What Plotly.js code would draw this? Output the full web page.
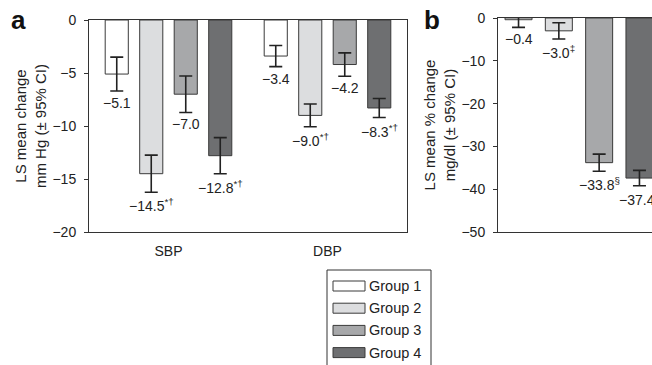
<!DOCTYPE html>
<html>
<head>
<meta charset="utf-8">
<script src="https://cdn.plot.ly/plotly-3.0.1.min.js"></script>
<style>html,body{margin:0;padding:0;background:#fff;}#chart{width:652px;height:365px;}</style>
</head>
<body>
<div id="chart"></div>
<script>
// ---- data ----
var groups = ['Group 1', 'Group 2', 'Group 3', 'Group 4'];
var colors = ['#ffffff', '#dcdddf', '#a7a8aa', '#6e6f71'];
var catsA = ['SBP', 'DBP'];
var bpG1 = [-5.1, -3.4];
var bpG2 = [-14.5, -9.0];
var bpG3 = [-7.0, -4.2];
var bpG4 = [-12.8, -8.3];
var bpErrG1 = [1.6, 1.0];
var bpErrG2 = [1.75, 1.07];
var bpErrG3 = [1.72, 1.1];
var bpErrG4 = [1.7, 0.9];
var bpMarks = [['', ''], ['*†', '*†'], ['', ''], ['*†', '*†']];
var lipid = [-0.4, -3.0, -33.8, -37.4];
var lipidErr = [1.8, 1.9, 2.0, 1.8];
var lipidMarks = ['', '‡', '§', '‖'];

// ---- layout helpers ----
var W = 652, H = 365;
var FONT = 'Liberation Sans, Arial, Helvetica, sans-serif';
var bargap = 0.132, bargroupgap = 0.33;
var slot = (1 - bargap) / 4;
function px(x) { return x / W; }
function py(y) { return 1 - y / H; }
function fmt(v) { return (v < 0 ? '\u2212' : '') + Math.abs(v).toFixed(1); }

var bpVals = [bpG1, bpG2, bpG3, bpG4];
var bpErrs = [bpErrG1, bpErrG2, bpErrG3, bpErrG4];
var traces = [];
var annotations = [];
var labelFont = {family: FONT, size: 14, color: '#222'};

for (var g = 0; g < 4; g++) {
  traces.push({
    type: 'bar', x: [0, 1], y: bpVals[g], name: groups[g], xaxis: 'x', yaxis: 'y',
    marker: {color: colors[g], line: {color: '#3a3a3a', width: 1}},
    error_y: {type: 'data', array: bpErrs[g], visible: true, color: '#222', thickness: 1.6, width: 6.5},
    showlegend: false, hoverinfo: 'skip'
  });
  for (var c = 0; c < 2; c++) {
    var t = fmt(bpVals[g][c]) + (bpMarks[g][c] ? '<sup>' + bpMarks[g][c] + '</sup>' : '');
    annotations.push({
      xref: 'x', yref: 'y', x: c + (g - 1.5) * slot, y: bpVals[g][c] - bpErrs[g][c],
      text: t, showarrow: false, yanchor: 'top', xanchor: 'center', yshift: -2,
      font: labelFont
    });
  }
}
for (var g2 = 0; g2 < 4; g2++) {
  traces.push({
    type: 'bar', x: [0], y: [lipid[g2]], name: groups[g2], xaxis: 'x2', yaxis: 'y2',
    marker: {color: colors[g2], line: {color: '#3a3a3a', width: 1}},
    error_y: {type: 'data', array: [lipidErr[g2]], visible: true, color: '#222', thickness: 1.6, width: 6.5},
    showlegend: false, hoverinfo: 'skip'
  });
  annotations.push({
    xref: 'x2', yref: 'y2', x: (g2 - 1.5) * slot, y: lipid[g2] - lipidErr[g2],
    text: fmt(lipid[g2]) + (lipidMarks[g2] ? '<sup>' + lipidMarks[g2] + '</sup>' : ''),
    showarrow: false, yanchor: 'top', xanchor: 'center', yshift: -2,
    font: labelFont
  });
}

// panel letters
annotations.push({xref: 'paper', yref: 'paper', x: px(9), y: py(20), text: '<b>a</b>', showarrow: false,
  xanchor: 'left', yanchor: 'middle', font: {family: FONT, size: 26, color: '#111'}});
annotations.push({xref: 'paper', yref: 'paper', x: px(422), y: py(20), text: '<b>b</b>', showarrow: false,
  xanchor: 'left', yanchor: 'middle', font: {family: FONT, size: 26, color: '#111'}});

// legend (drawn)
var shapes = [];
shapes.push({type: 'rect', xref: 'paper', yref: 'paper', x0: px(327), x1: px(431), y0: py(375), y1: py(270),
  line: {color: '#333', width: 1}, fillcolor: 'rgba(0,0,0,0)'});
for (var k = 0; k < 4; k++) {
  var cy = 286 + k * 22.2;
  shapes.push({type: 'rect', xref: 'paper', yref: 'paper', x0: px(333), x1: px(365), y0: py(cy + 5), y1: py(cy - 5),
    line: {color: '#3a3a3a', width: 1}, fillcolor: colors[k]});
  annotations.push({xref: 'paper', yref: 'paper', x: px(367), y: py(cy), text: groups[k], showarrow: false,
    xanchor: 'left', yanchor: 'middle', font: {family: FONT, size: 14.5, color: '#222'}});
}

var tickFont = {family: FONT, size: 14, color: '#222'};
var titleFont = {family: FONT, size: 15, color: '#222'};
var layout = {
  width: W, height: H,
  margin: {l: 0, r: 0, t: 0, b: 0},
  paper_bgcolor: '#fff', plot_bgcolor: '#fff',
  barmode: 'group', bargap: bargap, bargroupgap: bargroupgap,
  showlegend: false,
  xaxis: {domain: [px(89), px(407)], range: [-0.5, 1.5], tickvals: [0, 1], ticktext: catsA,
    showline: true, mirror: true, linecolor: '#333', linewidth: 1, ticks: '', showgrid: false, zeroline: false,
    tickfont: tickFont, ticklabelstandoff: 6, anchor: 'y', fixedrange: true},
  yaxis: {domain: [py(232), py(20)], range: [-20, 0], dtick: 5, showline: true, mirror: true, linecolor: '#333',
    linewidth: 1, ticks: 'outside', ticklen: 4, tickcolor: '#333', showgrid: false, zeroline: false,
    tickfont: tickFont, ticklabelstandoff: 5, anchor: 'x',
    title: {text: 'LS mean change<br>mm Hg (± 95% CI)', font: titleFont, standoff: 2}},
  xaxis2: {domain: [px(498), 1], range: [-0.436, 0.393], showticklabels: false, ticks: '',
    showline: true, mirror: true, linecolor: '#333', linewidth: 1, showgrid: false, zeroline: false, anchor: 'y2'},
  yaxis2: {domain: [py(232), py(18)], range: [-50, 0], dtick: 10, showline: true, mirror: false, linecolor: '#333',
    linewidth: 1, ticks: 'outside', ticklen: 4, tickcolor: '#333', showgrid: false, zeroline: false,
    tickfont: tickFont, ticklabelstandoff: 5, anchor: 'x2',
    title: {text: 'LS mean % change<br>mg/dl (± 95% CI)', font: titleFont, standoff: 2}},
  annotations: annotations,
  shapes: shapes
};

Plotly.newPlot('chart', traces, layout, {displayModeBar: false, staticPlot: true});
</script>
</body>
</html>
